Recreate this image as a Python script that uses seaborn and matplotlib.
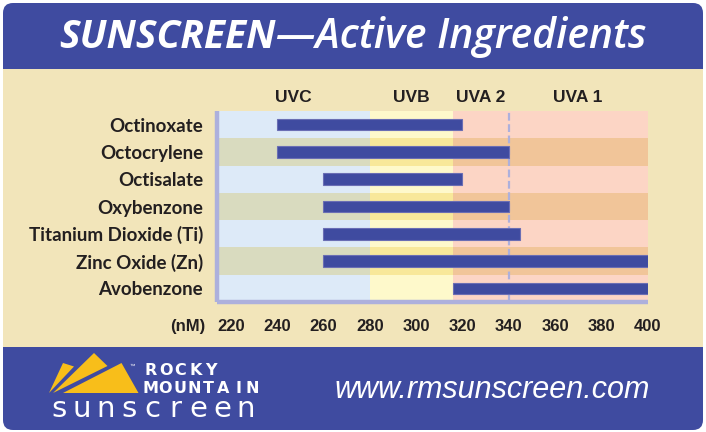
import numpy as np
import seaborn as sns
import matplotlib.pyplot as plt
from matplotlib.patches import FancyBboxPatch, Rectangle, Polygon

# ---- data ----
ingredients = ['Octinoxate', 'Octocrylene', 'Octisalate', 'Oxybenzone',
               'Titanium Dioxide (Ti)', 'Zinc Oxide (Zn)', 'Avobenzone']
range_start = np.array([240, 240, 260, 260, 260, 260, 316])  # nM
range_end = np.array([320, 340, 320, 340, 345, 400, 400])    # nM

zone_names = ['UVC', 'UVB', 'UVA 2', 'UVA 1']
zone_lo = [214, 280, 316, 340]
zone_hi = [280, 316, 340, 400]
x_ticks = [220, 240, 260, 280, 300, 320, 340, 360, 380, 400]

# ---- style ----
BLUE = '#3F4BA0'
BEIGE = '#F2E5BA'
LAVENDER = '#ADB0DC'
DARK = '#231F20'
zone_light = ['#DDEAF8', '#FEF9CB', '#FCD5C5', '#FCD5C5']
zone_dark = ['#D9DBBF', '#F8E89A', '#F1C599', '#F1C599']
NARROW = ['Lato', 'Liberation Sans', 'DejaVu Sans']
SANS = ['Liberation Sans', 'DejaVu Sans']
OPEN = ['Open Sans', 'Liberation Sans']

sns.set_theme(style='white')
plt.rcParams['font.family'] = SANS

W, H = 706, 432
fig = plt.figure(figsize=(W / 100, H / 100), dpi=100)
fig.patch.set_facecolor('white')

# background canvas in pixel coords
bg = fig.add_axes([0, 0, 1, 1], zorder=0)
bg.set_xlim(0, W); bg.set_ylim(H, 0); bg.axis('off')
bg.add_patch(FancyBboxPatch((3, 3), 700, 427, boxstyle='round,pad=0,rounding_size=10',
                            fc=BLUE, ec='none'))
bg.add_patch(Rectangle((3, 69), 700, 278, fc=BEIGE, ec='none'))

# title
rend = fig.canvas.get_renderer()
t1 = bg.text(0, 48, 'SUNSCREEN', color='white', fontsize=28, fontweight='bold',
             style='italic', family=OPEN, va='baseline', ha='left')
t2 = bg.text(0, 48, '\u2014Active Ingredients', color='white', fontsize=29.5,
             fontweight='semibold', style='italic', family=OPEN,
             va='baseline', ha='left')
w1 = t1.get_window_extent(rend).width
w2 = t2.get_window_extent(rend).width
x0 = 353 - (w1 + w2) / 2
t1.set_x(x0); t2.set_x(x0 + w1)

# ---- chart ----
ax = fig.add_axes([217 / W, (H - 302) / H, (647.6 - 217) / W, (302 - 111) / H], zorder=1)
widths = range_end - range_start
sns.barplot(x=widths, y=ingredients, left=range_start, ax=ax, width=0.42,
            color=BLUE, saturation=1, errorbar=None, edgecolor='#6A6EB4',
            linewidth=0.8, zorder=3)

rows = np.arange(len(ingredients))
for lo, hi, cl, cd in zip(zone_lo, zone_hi, zone_light, zone_dark):
    ax.axvspan(lo, hi, color=cl, lw=0, zorder=0)
    ax.barh(rows[1::2], hi - lo, left=lo, height=1, color=cd, lw=0, zorder=0.5)
ax.axvline(340, color=LAVENDER, lw=1.6, ls=(0, (3.5, 1.6)), zorder=1)

for name, lo, hi in zip(zone_names, zone_lo, zone_hi):
    ax.annotate(name, xy=((lo + hi) / 2, 1), xycoords=('data', 'axes fraction'),
                xytext=(0, 10), textcoords='offset points', ha='center', va='center',
                fontsize=12.5, fontweight='bold', color=DARK, family=SANS)

ax.set_xlim(214, 400)
ax.set_ylim(len(ingredients) - 0.5, -0.5)
ax.set_xlabel(''); ax.set_ylabel('')
ax.set_xticks(x_ticks)
ax.set_xticklabels([str(t) for t in x_ticks], fontsize=12, fontweight='bold',
                   color=DARK, family=SANS)
ax.set_yticks(rows)
ax.set_yticklabels(ingredients, fontsize=13.5, fontweight='bold', color=DARK, family=NARROW)
ax.tick_params(axis='x', length=0, pad=12)
ax.tick_params(axis='y', length=0, pad=10)
for s in ['top', 'right']:
    ax.spines[s].set_visible(False)
for s in ['left', 'bottom']:
    ax.spines[s].set_color(LAVENDER)
    ax.spines[s].set_linewidth(3.2)
    ax.spines[s].set_capstyle('butt')
ax.grid(False)

bg.text(188, 327, '(nM)', ha='center', va='center', fontsize=12, fontweight='bold',
        color=DARK, family=SANS)

# ---- footer logo ----
GOLD = '#F8BE1A'
for pts in ([(63, 363), (74, 366.5), (49, 393)],
            [(94, 353), (107.5, 366), (53, 393)],
            [(121.5, 363), (138.5, 393), (63, 393)]):
    bg.add_patch(Polygon(pts, closed=True, fc=GOLD, ec='none'))
bg.text(132, 366, '\u2122', color='white', fontsize=4, ha='center', va='center')


def spaced(left, right, y, s, **kw):
    step = (right - left) / len(s)
    for i, ch in enumerate(s):
        bg.text(left + step * (i + 0.5), y, ch, ha='center', va='baseline', **kw)


spaced(143, 218, 375, 'ROCKY', color='white', fontsize=11.5, fontweight='bold',
       family=['DejaVu Sans'])
spaced(143, 260, 393, 'MOUNTAIN', color='white', fontsize=11.5, fontweight='bold',
       family=['DejaVu Sans'])
spaced(47, 257, 417, 'sunscreen', color='white', fontsize=21, family=['DejaVu Sans'])

bg.text(492, 398, 'www.rmsunscreen.com', color='white', fontsize=22, style='italic',
        family=SANS, ha='center', va='baseline')

fig.savefig('out.png', dpi=100)
